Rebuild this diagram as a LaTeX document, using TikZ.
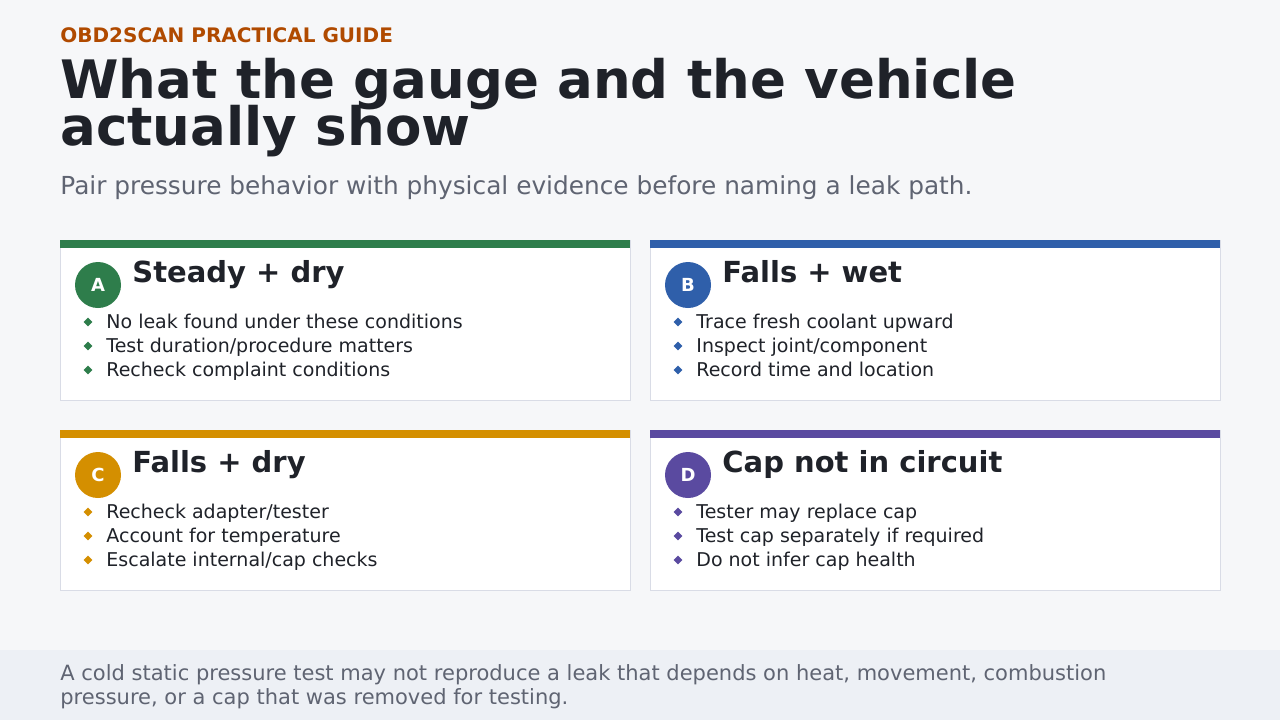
\documentclass[tikz,border=0pt]{standalone}
\usepackage{fontspec}
\setmainfont{DejaVu Sans}
\usetikzlibrary{shapes.geometric}
\definecolor{pagebg}{HTML}{F6F7F9}
\definecolor{footbg}{HTML}{EDF0F5}
\definecolor{ink}{HTML}{1F2229}
\definecolor{muted}{HTML}{5F6472}
\definecolor{kicker}{HTML}{B04A00}
\definecolor{cardline}{HTML}{D9DCE6}
\definecolor{cgreen}{HTML}{2E7D4B}
\definecolor{cblue}{HTML}{2F5FAA}
\definecolor{corange}{HTML}{D48F00}
\definecolor{cpurple}{HTML}{5A4AA0}
\tikzset{
  txt/.style={anchor=base west, inner sep=0pt, text=ink},
  bigtitle/.style={txt, font=\fontsize{26.5}{24}\selectfont\bfseries},
  badge/.style={circle, minimum size=23pt, inner sep=0pt, text=white, font=\fontsize{9}{9}\selectfont\bfseries},
  dot/.style={diamond, minimum size=4.5pt, inner sep=0pt},
  cardtitle/.style={txt, font=\fontsize{14.5}{14.5}\selectfont\bfseries},
  item/.style={txt, font=\fontsize{9.5}{9.5}\selectfont}
}
\begin{document}
\begin{tikzpicture}[x=0.5pt,y=-0.5pt]
  \fill[pagebg] (0,0) rectangle (1280,720);
  \fill[footbg] (0,650) rectangle (1280,720);
  \useasboundingbox (0,0) rectangle (1280,720);

  \node[txt, text=kicker, font=\fontsize{10}{10}\selectfont\bfseries] (kick) at (60,42) {OBD2SCAN PRACTICAL GUIDE};
  \node[bigtitle] (title) at (60,98) {What the gauge and the vehicle};
  \node[bigtitle] (title2) at (60,145) {actually show};
  \node[txt, text=muted, font=\fontsize{12.4}{12.4}\selectfont] (sub) at (60,194)
    {Pair pressure behavior with physical evidence before naming a leak path.};

  \foreach \x/\y/\c/\l/\t/\ia/\ib/\ic [count=\i] in {
    60/240/cgreen/A/Steady + dry/No leak found under these conditions/Test duration\slash procedure matters/Recheck complaint conditions,
    650/240/cblue/B/Falls + wet/Trace fresh coolant upward/Inspect joint\slash component/Record time and location,
    60/430/corange/C/Falls + dry/Recheck adapter\slash tester/Account for temperature/Escalate internal\slash cap checks,
    650/430/cpurple/D/Cap not in circuit/Tester may replace cap/Test cap separately if required/Do not infer cap health} {
    \draw[cardline, fill=white] (\x,\y) rectangle ++(570,160);
    \fill[\c] (\x,\y) rectangle ++(570,8);
    \node[badge, fill=\c] (badge\i) at (\x+38,\y+45) {\l};
    \node[cardtitle] (head\i) at (\x+72,\y+42) {\t};
    \node[dot, fill=\c] (dota\i) at (\x+28,\y+82) {};
    \node[item] (itema\i) at (\x+46,\y+88) {\ia};
    \node[dot, fill=\c] (dotb\i) at (\x+28,\y+106) {};
    \node[item] (itemb\i) at (\x+46,\y+112) {\ib};
    \node[dot, fill=\c] (dotc\i) at (\x+28,\y+130) {};
    \node[item] (itemc\i) at (\x+46,\y+136) {\ic};
  }

  \node[txt, text=muted, font=\fontsize{10.5}{11.8}\selectfont, align=left] (foot) at (60,704)
    {A cold static pressure test may not reproduce a leak that depends on heat, movement, combustion\\pressure, or a cap that was removed for testing.};
\end{tikzpicture}
\end{document}
